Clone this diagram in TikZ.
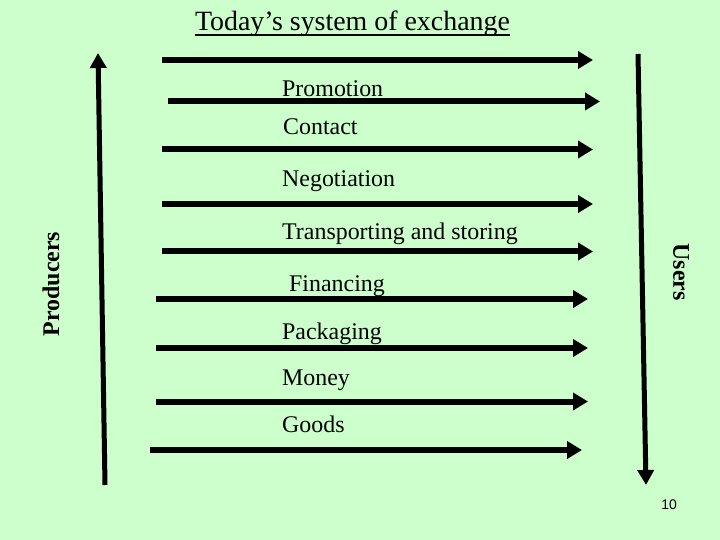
\documentclass[tikz,border=0pt]{standalone}
\usepackage{fontspec}
\setmainfont{Liberation Serif}
\newfontfamily\numfont{Liberation Sans}
\usetikzlibrary{arrows.meta}
\definecolor{slidebg}{HTML}{CCFFCC}

\begin{document}
\begin{tikzpicture}[
  x=1bp, y=-1bp,
  flow/.style={-{Triangle[length=15bp, width=17bp]}, line width=6bp},
  side/.style={-{Triangle[length=15bp, width=16bp]}, line width=5bp},
  lab/.style={anchor=base west, inner sep=0pt, font=\fontsize{24}{28}\selectfont},
  who/.style={inner sep=0pt, font=\fontsize{24}{28}\selectfont\bfseries},
]
  \fill[slidebg] (0,0) rectangle (720,540);
  \useasboundingbox (0,0) rectangle (720,540);

  % title
  \node[inner sep=0pt, anchor=base, font=\fontsize{28}{32}\selectfont]
      (title) at (352.5,31) {Today’s system of exchange};
  \draw[line width=1.3bp] ([yshift=-4bp]title.base west) -- ([yshift=-4bp]title.base east);

  % side arrows
  \coordinate (prodlo) at (105,485);
  \coordinate (prodhi) at (98,53);
  \coordinate (userhi) at (638,54);
  \coordinate (userlo) at (646,485);
  \draw[side] (prodlo) -- (prodhi);
  \draw[side] (userhi) -- (userlo);
  \node[who, rotate=90]  (prod) at (51,284) {Producers};
  \node[who, rotate=-90] (user) at (681,272) {Users};

  % flows
  \foreach \i/\xa/\xb/\yy in {1/162/593/60, 2/168/600/101.5, 3/162/593/149.5,
                              4/162/593/204, 5/162/593/251.5, 6/156/588/299,
                              7/156/588/348, 8/156/588/401.5, 9/150/582/450}{
    \coordinate (s\i) at (\xa,\yy);
    \coordinate (e\i) at (\xb,\yy);
    \draw[flow] (s\i) -- (e\i);
  }

  \node[lab] (promo)  at (282,96.5) {Promotion};
  \node[lab] (cont)   at (283,135)  {Contact};
  \node[lab] (nego)   at (282,187)  {Negotiation};
  \node[lab] (trans)  at (282,240)  {Transporting and storing};
  \node[lab] (fin)    at (289,291)  {Financing};
  \node[lab] (pack)   at (282,339.5){Packaging};
  \node[lab] (money)  at (282,385)  {Money};
  \node[lab] (goods)  at (282,432.5){Goods};

  \node[inner sep=0pt, anchor=base, font=\numfont\fontsize{14}{16}\selectfont]
      (pgno) at (669,509) {10};
\end{tikzpicture}
\end{document}
